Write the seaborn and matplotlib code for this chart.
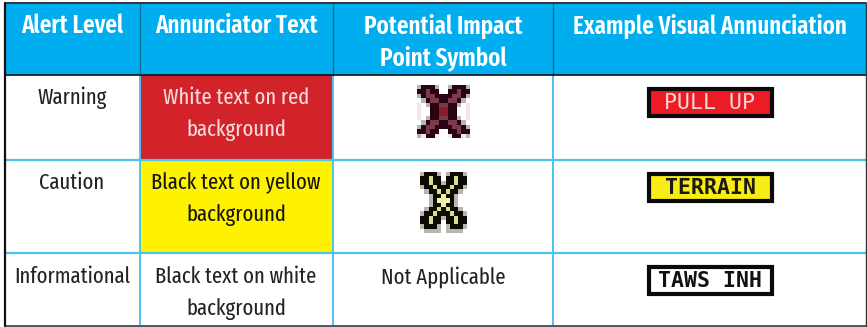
import seaborn as sns
import matplotlib
matplotlib.use("Agg")
import matplotlib.pyplot as plt
from matplotlib import font_manager as fm
from matplotlib.colors import ListedColormap
from matplotlib.patches import Rectangle
import numpy as np

headers = ["Alert Level", "Annunciator Text", "Potential Impact\nPoint Symbol", "Example Visual Annunciation"]
levels = ["Warning", "Caution", "Informational"]
annunciator_text = ["White text on red\nbackground", "Black text on yellow\nbackground", "Black text on white\nbackground"]
not_applicable = "Not Applicable"
visual_labels = ["PULL UP", "TERRAIN", "TAWS INH"]
visual_fill = ["#ed1c24", "#f7ec13", "#ffffff"]
visual_text = ["#f4d9d9", "#1a1a10", "#111111"]

# table grid in picture pixels
col_edges = [5, 140, 333, 553, 866]
row_edges = [3, 75, 160, 253, 326]

HEAD = "#00aeef"
LINE = "#4cc4ef"
RED = "#d2232a"
YELLOW = "#fff200"

# pixelated impact symbols, one letter per cell
red_x = ["gdddgwwgdddg",
         "ddmddwwddmdd",
         "gdmmddddmmdg",
         "wgdmmddmmdgw",
         "pwgddmmddgwp",
         "pwwddrrddwwp",
         "pwwddrrddwwp",
         "pwgddmmddgwp",
         "wgdmmddmmdgw",
         "gdmmddddmmdg",
         "ddmddwwddmdd",
         "gpddpwwpddpg"]
yellow_x = ["gkkkgwgkkkg",
            "kkykkwkkykk",
            "kkykkgkkykk",
            "gkkykkkykkg",
            "wgkkykykkgw",
            "wwgkkzkkgww",
            "wwgkzzzkgww",
            "wwgkkzkkgww",
            "wgkkykykkgw",
            "gkkykkkykkg",
            "kkykkgkkykk",
            "kkykkwkkykk",
            "gkkkgwgkkkg",
            "wggggwggggw"]
cell_colors = {"w": "#ffffff", "g": "#b9b5b5", "p": "#f6e6ea",
               "d": "#2a0410", "m": "#7d3a4c", "r": "#8f1a30",
               "k": "#0c0c00", "y": "#dcdc8c", "z": "#f0f0a8"}

sns.set_theme(style="white")

# condensed face if the machine has one, otherwise smaller Open Sans
installed = {x.name for x in fm.fontManager.ttflist}
if "Fira Sans Extra Condensed" in installed:
    plt.rcParams["font.family"] = ["Fira Sans Extra Condensed", "DejaVu Sans"]
    HEAD_SIZE, BODY_SIZE = 18, 16.2
else:
    plt.rcParams["font.family"] = ["Open Sans", "DejaVu Sans"]
    HEAD_SIZE, BODY_SIZE = 14.5, 13

f, ax = plt.subplots(figsize=(8.67, 3.27), dpi=100)
f.subplots_adjust(0, 0, 1, 1)

# cell backgrounds
fills = [[HEAD] * 4,
         ["#ffffff", RED, "#ffffff", "#ffffff"],
         ["#ffffff", YELLOW, "#ffffff", "#ffffff"],
         ["#ffffff"] * 4]
palette = [HEAD, "#ffffff", RED, YELLOW]
codes = np.array([[palette.index(c) for c in row] for row in fills])
ax.pcolormesh(col_edges, row_edges, codes, cmap=ListedColormap(palette), vmin=-0.5, vmax=3.5)
ax.set_xlim(0, 867)
ax.set_ylim(327, 0)
ax.axis("off")

# grid lines
for x in col_edges[1:-1]:
    ax.plot([x, x], [row_edges[1], row_edges[-1]], color=LINE, lw=1.4, zorder=2)
    ax.plot([x, x], [row_edges[0], row_edges[1]], color="#0a6f96", lw=1.0, zorder=2)
for y in row_edges[2:-1]:
    ax.plot([col_edges[0], col_edges[-1]], [y, y], color=LINE, lw=1.6, zorder=2)
ax.plot([col_edges[0], col_edges[-1]], [row_edges[1]] * 2, color="#111111", lw=1.2, zorder=3)
ax.plot([col_edges[0], col_edges[-1]], [row_edges[0]] * 2, color="#333333", lw=1.4, zorder=3)
ax.plot([col_edges[0], col_edges[-1]], [row_edges[-1]] * 2, color="#555555", lw=1.4, zorder=3)
ax.plot([col_edges[0]] * 2, [row_edges[0], row_edges[-1]], color="#111111", lw=1.6, zorder=3)
ax.plot([col_edges[-1]] * 2, [row_edges[0], row_edges[-1]], color="#333333", lw=1.0, zorder=3)

centers = [72, 236, 443, 710]

# text
for cx, h in zip(centers, headers):
    for i, t in enumerate(h.split("\n")):
        ax.text(cx, 26 + i * 32, t, ha="center", va="center", color="white",
                fontsize=HEAD_SIZE, fontweight="semibold")

row_y = [98, 183, 277]
line_gap = 32
text_cols = ["#f7dcdc", "#15150a", "#222222"]
for y, lev, ann, tc in zip(row_y, levels, annunciator_text, text_cols):
    ax.text(centers[0], y, lev, ha="center", va="center", color="#222222", fontsize=BODY_SIZE)
    for i, t in enumerate(ann.split("\n")):
        ax.text(centers[1], y + i * line_gap, t, ha="center", va="center", color=tc, fontsize=BODY_SIZE)
ax.text(centers[2], row_y[2], not_applicable, ha="center", va="center", color="#222222", fontsize=BODY_SIZE)

# annunciator boxes
box_tops = [87, 172, 265]
box_h = 30
for top, lab, fc, tc in zip(box_tops, visual_labels, visual_fill, visual_text):
    ax.add_patch(Rectangle((649, top + 2), 123, box_h - 3, facecolor=fc, edgecolor="#0a0a0a", lw=3, zorder=4))
    ax.text(710, top + box_h / 2 + 1, lab, ha="center", va="center", color=tc, zorder=5,
            family="DejaVu Sans Mono", fontsize=15.5,
            fontweight="normal" if lab == "PULL UP" else "bold")


def draw_symbol(rows, left, top, width, height):
    keys = list(cell_colors)
    grid = np.array([[keys.index(c) for c in r] for r in rows])
    inset = f.add_axes([left / 867, 1 - (top + height) / 327, width / 867, height / 327])
    sns.heatmap(grid, ax=inset, cmap=ListedColormap([cell_colors[k] for k in keys]),
                vmin=-0.5, vmax=len(keys) - 0.5, cbar=False, xticklabels=False, yticklabels=False)


draw_symbol(red_x, 417, 85, 53, 53)
draw_symbol(yellow_x, 420, 172, 47, 61)

plt.savefig("out.png", dpi=100)
